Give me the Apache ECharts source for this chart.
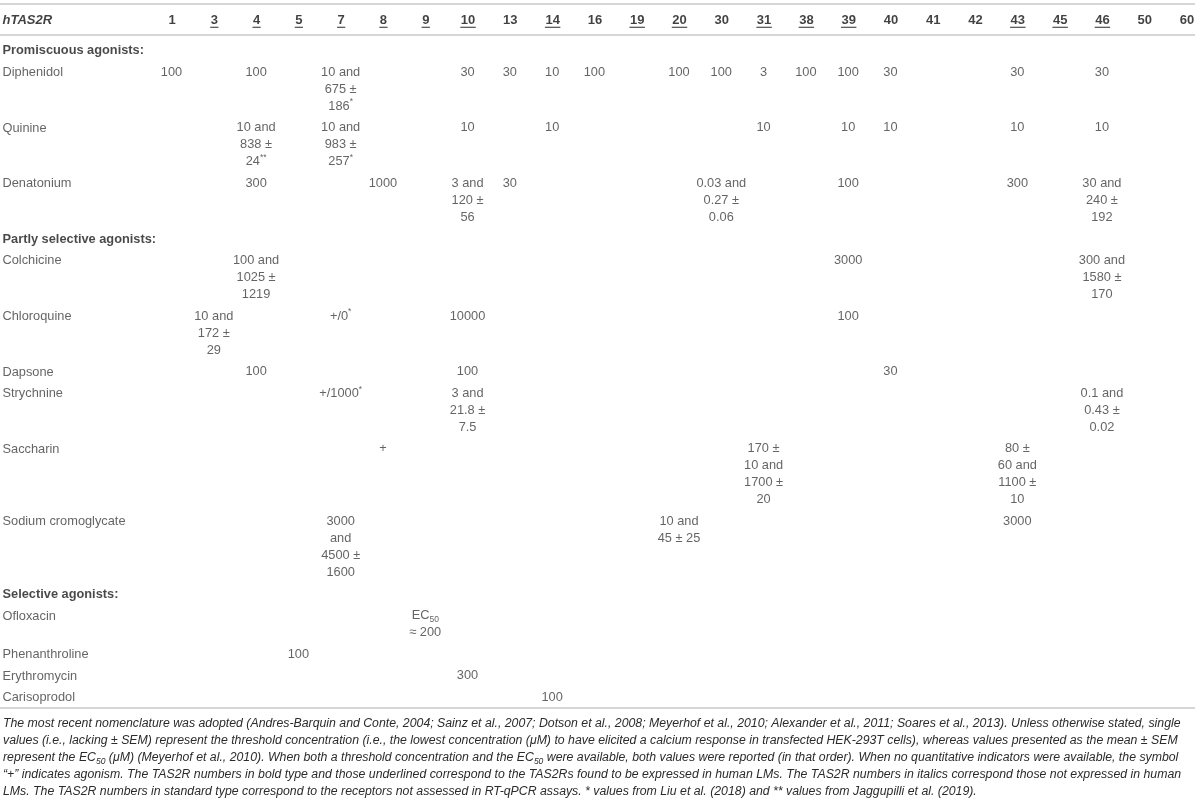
<!DOCTYPE html>
<html><head><meta charset="utf-8">
<script src="https://cdn.jsdelivr.net/npm/echarts@6/dist/echarts.min.js"></script>
<style>html,body{margin:0;padding:0;background:#fff}#c{width:1200px;height:798px}</style>
</head><body><div id="c"></div>
<script>
// ---------- data ----------
const headerLabel = 'hTAS2R';
const receptors = ['1','3','4','5','7','8','9','10','13','14','16','19','20','30','31','38','39','40','41','42','43','45','46','50','60'];
const underlinedReceptors = ['3','4','5','7','8','9','10','14','19','20','31','38','39','43','45','46'];
const sectionNames = ['Promiscuous agonists:', 'Partly selective agonists:', 'Selective agonists:'];

const diphenidol = [['1','100'],['4','100'],['7','10 and\n675 ±\n186*'],['10','30'],['13','30'],['14','10'],['16','100'],['20','100'],['30','100'],['31','3'],['38','100'],['39','100'],['40','30'],['43','30'],['46','30']];
const quinine = [['4','10 and\n838 ±\n24**'],['7','10 and\n983 ±\n257*'],['10','10'],['14','10'],['31','10'],['39','10'],['40','10'],['43','10'],['46','10']];
const denatonium = [['4','300'],['8','1000'],['10','3 and\n120 ±\n56'],['13','30'],['30','0.03 and\n0.27 ±\n0.06'],['39','100'],['43','300'],['46','30 and\n240 ±\n192']];
const colchicine = [['4','100 and\n1025 ±\n1219'],['39','3000'],['46','300 and\n1580 ±\n170']];
const chloroquine = [['3','10 and\n172 ±\n29'],['7','+/0*'],['10','10000'],['39','100']];
const dapsone = [['4','100'],['10','100'],['40','30']];
const strychnine = [['7','+/1000*'],['10','3 and\n21.8 ±\n7.5'],['46','0.1 and\n0.43 ±\n0.02']];
const saccharin = [['8','+'],['31','170 ±\n10 and\n1700 ±\n20'],['43','80 ±\n60 and\n1100 ±\n10']];
const sodiumCromoglycate = [['7','3000\nand\n4500 ±\n1600'],['20','10 and\n45 ± 25'],['43','3000']];
const ofloxacin = [['9','EC_50\n≈ 200']];
const phenanthroline = [['5','100']];
const erythromycin = [['10','300']];
const carisoprodol = [['14','100']];

const rowNames = ['Promiscuous agonists:','Diphenidol','Quinine','Denatonium','Partly selective agonists:','Colchicine','Chloroquine','Dapsone','Strychnine','Saccharin','Sodium cromoglycate','Selective agonists:','Ofloxacin','Phenanthroline','Erythromycin','Carisoprodol'];
const rowCells = [[], diphenidol, quinine, denatonium, [], colchicine, chloroquine, dapsone, strychnine, saccharin, sodiumCromoglycate, [], ofloxacin, phenanthroline, erythromycin, carisoprodol];

// footnote: [text, isCitation]
const footLines = [
 [['The most recent nomenclature was adopted (',0],['Andres-Barquin and Conte, 2004',1],['; ',0],['Sainz et al., 2007',1],['; ',0],['Dotson et al., 2008',1],['; ',0],['Meyerhof et al., 2010',1],['; ',0],['Alexander et al., 2011',1],['; ',0],['Soares et al., 2013',1],['). Unless otherwise stated, single',0]],
 [['values (i.e., lacking ± SEM) represent the threshold concentration (i.e., the lowest concentration (μM) to have elicited a calcium response in transfected HEK-293T cells), whereas values presented as the mean ± SEM',0]],
 [['represent the EC_50 (μM) (',0],['Meyerhof et al., 2010',1],['). When both a threshold concentration and the EC_50 were available, both values were reported (in that order). When no quantitative indicators were available, the symbol',0]],
 [['“+” indicates agonism. The TAS2R numbers in bold type and those underlined correspond to the TAS2Rs found to be expressed in human LMs. The TAS2R numbers in italics correspond those not expressed in human',0]],
 [['LMs. The TAS2R numbers in standard type correspond to the receptors not assessed in RT-qPCR assays. * values from ',0],['Liu et al. (2018)',1],[' and ** values from ',0],['Jaggupilli et al. (2019)',1],['.',0]]
];

// ---------- layout ----------
const W = 1200, H = 798;
const FONT = '"Liberation Sans", Arial, Helvetica, sans-serif';
const CELL_FS = 12.8, HEAD_FS = 13, FOOT_FS = 12.3;
const unitPx = 17;           // one text line
const headerPx = 20;         // header line centre
const firstColPx = 172, lastColPx = 1187, gridRight = 5, gridBottomPx = 760;
const rowPad = 0.27, bodyStart = 1.82;

const colPx = (lastColPx - firstColPx) / (receptors.length - 1);
const xMin = -firstColPx / colPx;
const xMax = (W - gridRight - firstColPx) / colPx;
const yMin = -headerPx / unitPx;
const yMax = (gridBottomPx - headerPx) / unitPx;

// row positions derived from the number of text lines in each row
let yCursor = bodyStart;
const rowY = [], rowLines = [];
rowNames.forEach((n, i) => {
  const lines = Math.max(1, ...rowCells[i].map(c => c[1].split('\n').length));
  rowY.push(yCursor); rowLines.push(lines);
  yCursor += lines + rowPad;
});
const lastIdx = rowNames.length - 1;
const ruleTop = -0.94, ruleHeader = 0.88;
const ruleBottom = rowY[lastIdx] + rowLines[lastIdx] - 0.4;

function toRich(s) {
  return s.replace(/_(\d+)/g, '{sub|$1}').replace(/(\*+)/g, '{sup|$1}');
}

const cellData = [];
rowNames.forEach((n, i) => rowCells[i].forEach(([rec, txt]) => {
  cellData.push({ value: [receptors.indexOf(rec), rowY[i]], name: txt });
}));

const nameData = rowNames.map((n, i) => ({
  value: [xMin, rowY[i]], name: n,
  label: sectionNames.includes(n) ? { fontWeight: 'bold', color: '#1a1a1a' } : {}
}));
nameData.unshift({ value: [xMin, 0], name: headerLabel, label: { fontWeight: 'bold', fontStyle: 'italic', color: '#111', fontSize: HEAD_FS } });

const headerData = receptors.map((r, i) => ({ value: [i, 0], name: r }));
const underlineData = receptors.map((r, i) => ({ value: [i, 0.43], name: r }))
  .filter(d => underlinedReceptors.includes(d.name));

const footText = footLines.map(line => line.map(([t, c]) => {
  const parts = t.split(/_(\d+)/);
  return parts.map((p, k) => k % 2 ? '{s|' + p + '}' : (p ? '{' + (c ? 'c' : 'n') + '|' + p + '}' : '')).join('');
}).join('')).join('\n');

const baseLabel = { fontFamily: FONT, fontSize: CELL_FS, color: '#3d3d3d', lineHeight: unitPx };

const chart = echarts.init(document.getElementById('c'), null, { renderer: 'canvas' });
chart.setOption({
  animation: false,
  backgroundColor: '#fff',
  grid: { left: 0, right: gridRight, top: 0, bottom: H - gridBottomPx },
  xAxis: { type: 'value', min: xMin, max: xMax, show: false },
  yAxis: { type: 'value', min: yMin, max: yMax, inverse: true, show: false },
  graphic: [{
    type: 'text', left: 3, top: 715, silent: true,
    style: {
      text: footText, fontFamily: FONT, fontSize: FOOT_FS, fontStyle: 'italic', lineHeight: unitPx, fill: '#2b2b2b',
      rich: {
        n: { fontFamily: FONT, fontSize: FOOT_FS, fontStyle: 'italic', color: '#2b2b2b', lineHeight: unitPx },
        c: { fontFamily: FONT, fontSize: FOOT_FS, fontStyle: 'italic', color: '#9a9a9a', lineHeight: unitPx },
        s: { fontFamily: FONT, fontSize: 8.5, fontStyle: 'italic', color: '#2b2b2b', lineHeight: 11, verticalAlign: 'bottom' }
      }
    }
  }],
  series: [
    {
      type: 'scatter', name: 'rules', data: [], silent: true,
      markLine: {
        silent: true, symbol: 'none', label: { show: false },
        lineStyle: { color: '#c8c8c8', width: 1.5, type: 'solid' },
        data: [{ yAxis: ruleTop }, { yAxis: ruleHeader }, { yAxis: ruleBottom }]
      }
    },
    {
      type: 'scatter', name: 'rowNames', data: nameData, symbolSize: 1, clip: false, silent: true,
      itemStyle: { color: 'rgba(0,0,0,0)' },
      label: Object.assign({}, baseLabel, { show: true, position: 'right', distance: 2, align: 'left', verticalAlign: 'middle', formatter: '{b}' })
    },
    {
      type: 'scatter', name: 'header', data: headerData, symbolSize: 1, clip: false, silent: true,
      itemStyle: { color: 'rgba(0,0,0,0)' },
      label: Object.assign({}, baseLabel, { show: true, position: 'inside', fontWeight: 'bold', fontSize: HEAD_FS, color: '#111', formatter: '{b}' })
    },
    {
      type: 'scatter', name: 'underline', data: underlineData, symbol: 'rect', clip: false, silent: true,
      symbolSize: (v, p) => [p.name.length * HEAD_FS * 0.556 + 1, 1.2],
      itemStyle: { color: '#222' }
    },
    {
      type: 'scatter', name: 'cells', data: cellData, symbolSize: 1, clip: false, silent: true,
      itemStyle: { color: 'rgba(0,0,0,0)' },
      label: Object.assign({}, baseLabel, {
        show: true, position: [0, 0], align: 'center', verticalAlign: 'top', offset: [0, -unitPx / 2],
        formatter: p => toRich(p.name),
        rich: {
          sup: { fontFamily: FONT, fontSize: 8.5, color: '#3d3d3d', lineHeight: 11, verticalAlign: 'top' },
          sub: { fontFamily: FONT, fontSize: 8.5, color: '#3d3d3d', lineHeight: 11, verticalAlign: 'bottom' }
        }
      })
    }
  ]
});
</script></body></html>
